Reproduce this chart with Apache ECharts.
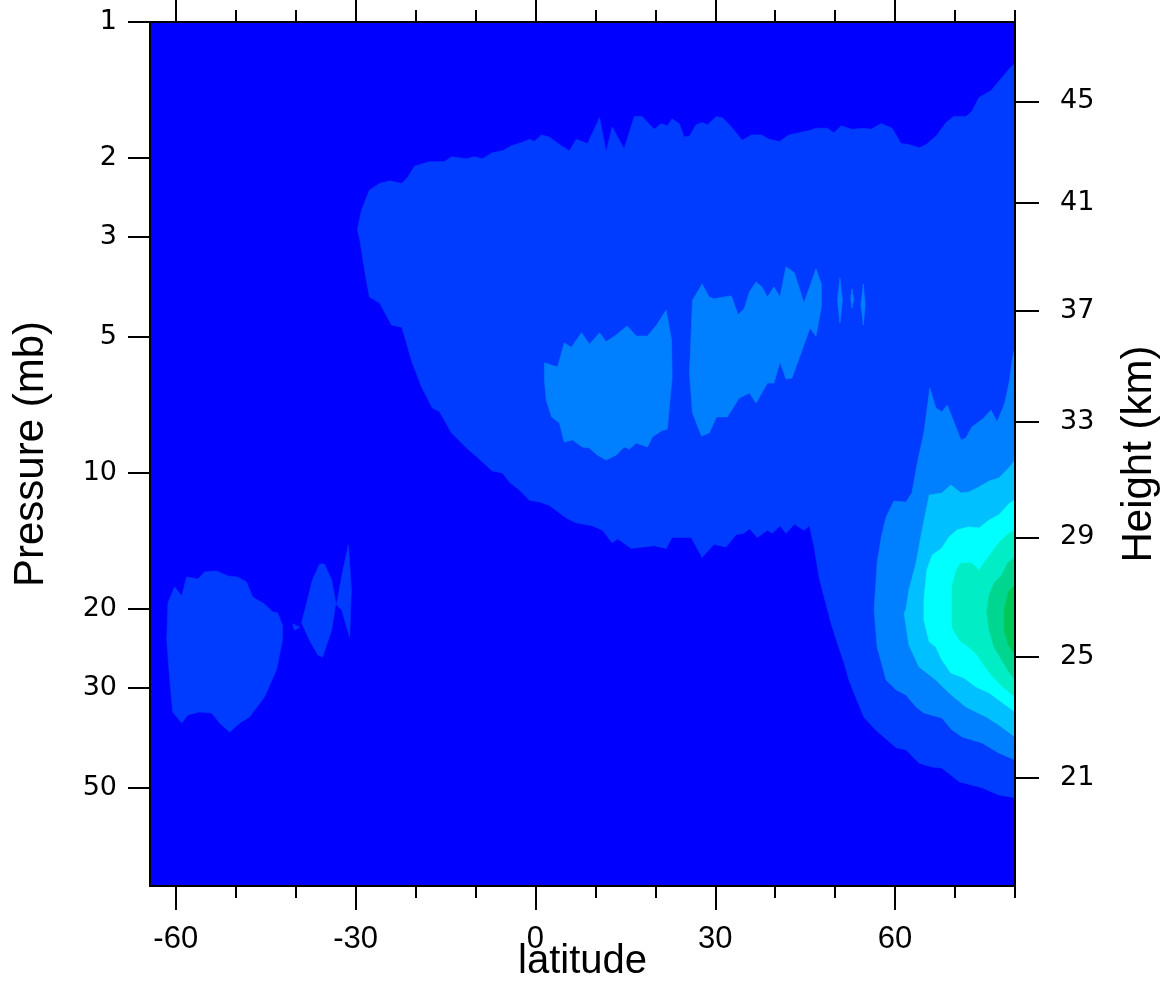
<!DOCTYPE html>
<html>
<head>
<meta charset="utf-8">
<script src="https://cdn.jsdelivr.net/npm/echarts@6/dist/echarts.min.js"></script>
<style>html,body{margin:0;padding:0;background:#fff;}#chart{width:1172px;height:983px;}</style>
</head>
<body>
<div id="chart"></div>
<script>
// ---- axis data ----
const latRange = [-64.3, 80];
const pressureRange = [1, 82.4];
const latTicksMajor = [-60, -30, 0, 30, 60];
const latTicksMinor = [-50, -40, -20, -10, 10, 20, 40, 50, 70, 80];
const pressureTicks = [1, 2, 3, 5, 10, 20, 30, 50];
const heightTicks = [45, 41, 37, 33, 29, 25, 21];
const heightTickPressure = [1.50, 2.52, 4.37, 7.71, 13.9, 25.6, 47.5];

// ---- contour level colours (lowest = background) ----
const levelColors = ['#0000FF', '#003CFF', '#0080FF', '#00C0FF', '#00FFFF', '#00EDC6', '#00D690', '#00C856'];

// ---- contour polygons: [latitude, pressure mb] ----
const level1Main = [[-29.7,2.89],[-29.0,2.61],[-27.7,2.36],[-26.0,2.28],[-24.3,2.25],[-22.3,2.28],[-21.3,2.21],[-20.2,2.09],[-17.7,2.04],[-15.2,2.04],[-14.0,1.99],[-11.5,2.01],[-10.2,1.99],[-8.8,2.01],[-7.2,1.95],[-5.5,1.93],[-4.0,1.88],[-2.3,1.85],[-1.0,1.82],[-0.2,1.84],[1.0,1.78],[2.3,1.80],[4.3,1.88],[5.7,1.93],[6.8,1.82],[8.7,1.86],[10.7,1.63],[11.8,1.94],[12.8,1.71],[14.8,1.91],[16.5,1.62],[17.8,1.62],[19.8,1.73],[21.0,1.68],[22.0,1.70],[22.8,1.64],[24.0,1.68],[24.8,1.80],[25.7,1.79],[26.8,1.69],[27.8,1.67],[28.7,1.69],[30.2,1.62],[31.2,1.63],[32.7,1.71],[34.5,1.83],[36.0,1.78],[37.7,1.78],[39.0,1.82],[40.7,1.84],[42.3,1.78],[44.0,1.76],[45.7,1.74],[46.8,1.72],[48.7,1.72],[49.8,1.76],[51.0,1.70],[52.8,1.73],[54.8,1.72],[56.0,1.73],[57.7,1.68],[59.5,1.72],[61.0,1.86],[62.3,1.87],[64.0,1.90],[65.2,1.87],[67.0,1.78],[68.5,1.67],[69.8,1.62],[71.8,1.62],[72.8,1.58],[74.0,1.47],[76.0,1.42],[77.8,1.33],[79.5,1.25],[80,1.24],
  [80,52.5],[77.3,51.8],[74.5,49.9],[70.7,48.4],[67.8,45.1],[66.2,44.9],[64.0,44.0],[61.8,41.1],[60.2,40.7],[56.8,37.2],[54.8,34.8],[53.5,31.6],[52.3,28.8],[51.5,26.4],[50.3,23.7],[49.3,21.5],[48.5,19.6],[47.3,17.0],[46.5,14.6],[45.7,13.1],[44.8,13.4],[44.0,13.2],[43.2,13.0],[41.8,13.6],[40.8,13.1],[39.5,13.6],[38.7,13.4],[37.0,13.9],[35.7,13.3],[34.8,13.6],[33.5,13.7],[31.8,14.6],[29.8,14.4],[27.8,15.4],[26.0,13.9],[22.8,13.9],[21.8,14.7],[19.8,14.5],[16.0,14.7],[13.7,14.0],[12.8,14.3],[11.2,13.4],[9.5,13.1],[6.8,12.9],[5.2,12.6],[2.3,11.8],[0.7,11.6],[-1.0,11.5],[-2.7,10.9],[-4.3,10.5],[-5.5,10.0],[-7.2,9.9],[-9.8,9.2],[-11.5,8.8],[-14.0,8.15],[-16.0,7.32],[-17.2,7.18],[-19.0,6.45],[-20.7,5.62],[-21.8,4.99],[-22.3,4.75],[-24.0,4.70],[-26.0,4.20],[-27.7,4.07],[-28.5,3.55],[-29.3,3.04]];
const level1SouthBlob = [[-60.2,17.89],[-59.0,18.74],[-58.2,17.01],[-56.3,17.18],[-55.2,16.58],[-53.2,16.50],[-51.3,16.92],[-49.7,17.01],[-48.2,17.45],[-47.2,18.84],[-45.2,19.52],[-43.8,20.34],[-43.0,20.44],[-42.2,21.73],[-42.2,23.46],[-43.2,27.34],[-45.2,31.38],[-47.7,34.76],[-49.3,35.84],[-51.0,37.53],[-52.7,35.84],[-54.0,34.06],[-56.0,33.88],[-58.0,34.41],[-59.0,35.84],[-60.5,33.88],[-61.0,28.78],[-61.5,23.46],[-61.3,19.42]];
const level1Speck = [[-40.5,21.6],[-39.3,22.0],[-40.2,22.3]];
const level1Diamond = [[-39.0,21.51],[-37.2,17.27],[-36.0,15.92],[-35.2,15.92],[-34.0,17.27],[-33.3,19.42],[-34.0,22.29],[-35.5,25.59],[-36.3,25.32],[-37.7,23.46]];
const level1Spike = [[-33.2,19.62],[-32.2,16.66],[-31.2,14.44],[-30.7,18.17],[-31.0,23.10],[-31.5,21.95],[-32.3,20.13]];

const level2Tropics = [[1.5,5.70],[3.7,5.82],[4.8,5.15],[6.0,5.26],[7.7,4.89],[9.0,5.18],[10.7,4.89],[11.8,5.12],[13.5,4.94],[15.3,4.72],[16.8,4.97],[18.7,4.97],[20.2,4.70],[21.8,4.35],[22.7,5.07],[22.8,6.13],[22.0,7.99],[21.0,8.07],[19.5,8.32],[18.7,8.76],[16.8,8.58],[15.7,8.85],[14.8,8.76],[13.5,9.12],[11.8,9.36],[10.3,9.12],[9.0,8.80],[7.8,8.76],[6.2,8.45],[4.8,8.54],[4.0,7.75],[2.7,7.51],[1.8,6.89],[1.5,6.22]];
const level2Subtropics = [[25.7,6.00],[26.2,4.14],[27.8,3.81],[29.0,4.07],[29.8,4.11],[31.5,4.07],[32.7,4.05],[33.8,4.46],[34.8,4.33],[35.7,3.97],[36.8,3.77],[37.8,3.87],[38.7,4.07],[39.8,3.87],[40.8,4.07],[41.8,3.49],[43.2,3.60],[44.8,4.20],[46.8,3.53],[47.7,3.81],[47.7,4.28],[46.8,4.97],[45.8,4.77],[42.8,6.16],[41.8,6.19],[40.8,5.67],[39.8,6.32],[38.7,6.32],[36.8,7.00],[35.7,6.65],[34.0,6.82],[32.0,7.51],[30.2,7.51],[29.0,8.15],[27.7,8.28],[26.2,7.36]];
const level2Sliver1 = [[50.8,3.70],[51.2,4.14],[50.8,4.65],[50.4,4.14]];
const level2Sliver2 = [[52.8,3.91],[53.1,4.11],[52.8,4.31],[52.6,4.11]];
const level2Sliver3 = [[54.7,3.81],[55.0,4.24],[54.7,4.70],[54.3,4.24]];
const level2Arctic = [[80,5.26],[79.6,5.53],[79.1,6.22],[78.3,7.00],[77.0,7.71],[76.0,7.25],[74.8,7.55],[72.8,7.91],[71.8,8.37],[71.0,8.45],[68.7,7.07],[67.8,7.32],[66.8,7.18],[65.8,6.48],[64.8,8.15],[63.7,9.50],[62.8,11.08],[61.8,11.60],[59.8,11.54],[58.5,12.52],[57.7,13.87],[57.0,15.84],[56.5,20.13],[57.0,24.31],[58.5,28.78],[60.2,30.28],[61.8,31.06],[63.5,33.03],[64.8,34.06],[67.8,34.94],[69.5,37.15],[71.2,38.50],[74.5,39.70],[77.3,41.77],[80,43.3]];

const level3Arctic = [[80,9.36],[79.1,9.70],[77.3,10.26],[75.7,10.42],[74.0,10.74],[72.3,11.02],[71.0,11.08],[69.3,10.63],[67.8,11.08],[65.7,11.19],[64.5,13.38],[63.5,15.84],[62.3,18.17],[61.8,20.13],[61.5,20.44],[62.3,24.07],[64.0,26.93],[66.8,28.78],[69.0,30.74],[71.8,33.03],[75.2,34.76],[77.3,36.22],[80,38.5]];
const level4Arctic = [[80,11.48],[79.1,11.66],[77.3,12.39],[75.7,12.71],[74.0,13.24],[72.3,13.17],[70.3,13.38],[69.0,13.87],[67.8,14.67],[66.2,15.20],[65.3,16.41],[64.8,19.12],[64.8,21.18],[65.7,23.70],[66.8,24.31],[67.8,25.98],[69.3,27.76],[71.5,28.48],[73.5,29.83],[75.7,30.74],[77.3,31.87],[80,33.88]];
const level5Arctic = [[80,13.38],[78.6,13.73],[77.3,14.30],[76.2,14.97],[75.2,15.59],[74.0,16.41],[72.7,15.84],[71.0,15.84],[70.2,16.41],[69.5,17.89],[69.5,19.42],[69.5,21.95],[70.7,23.46],[72.3,24.31],[73.7,25.32],[74.8,26.66],[76.2,28.19],[77.8,29.68],[80,31.38]];
const level6Arctic = [[80,15.36],[78.8,15.84],[77.8,16.84],[76.5,17.54],[75.7,18.64],[75.3,20.34],[75.7,22.29],[76.5,24.31],[77.8,25.98],[78.8,27.34],[80,28.78]];
const level7Arctic = [[80,17.71],[78.9,18.36],[78.2,20.13],[78.2,22.29],[78.9,24.07],[80,25.32]];

const levels = [
  [level1Main, level1SouthBlob, level1Speck, level1Diamond, level1Spike],
  [level2Tropics, level2Subtropics, level2Sliver1, level2Sliver2, level2Sliver3, level2Arctic],
  [level3Arctic],
  [level4Arctic],
  [level5Arctic],
  [level6Arctic],
  [level7Arctic]
];

const lg = Math.log10;
function levelSeries(idx, polys) {
  const color = levelColors[idx + 1];
  return {
    type: 'custom',
    coordinateSystem: 'cartesian2d',
    xAxisIndex: 0, yAxisIndex: 0,
    clip: true, silent: true, z: 2 + idx,
    data: polys.map(poly => [poly[0][0], lg(poly[0][1])]),
    renderItem: function (params, api) {
      const poly = polys[params.dataIndex];
      const pts = poly.map(pt => api.coord([pt[0], lg(pt[1])]));
      return { type: 'polygon', shape: { points: pts }, style: { fill: color, stroke: color, lineWidth: 0.6 } };
    }
  };
}

const black = '#000';
const tickFont = 'Liberation Sans, Arial, sans-serif';
function xAx(pos, ticks, len, labels) {
  return {
    type: 'value', position: pos, min: latRange[0], max: latRange[1], z: 20,
    axisLine: { show: true, onZero: false, lineStyle: { color: black, width: 2 } },
    axisTick: { show: true, inside: false, length: len, customValues: ticks, lineStyle: { color: black, width: 2 } },
    axisLabel: labels ? { show: true, customValues: ticks, margin: 38, color: black, fontSize: 31, fontFamily: tickFont, formatter: v => String(Math.round(v)) } : { show: false },
    splitLine: { show: false }
  };
}

const chart = echarts.init(document.getElementById('chart'), null, { renderer: 'canvas' });
const yMin = lg(pressureRange[0]), yMax = lg(pressureRange[1]);
const heightVals = heightTickPressure.map(lg);

const option = {
  backgroundColor: '#ffffff',
  animation: false,
  grid: { left: 150, top: 22, right: 157, bottom: 97, show: true, backgroundColor: levelColors[0], borderWidth: 0,
    containLabel: false, outerBoundsMode: 'none' },
  xAxis: [
    Object.assign(xAx('bottom', latTicksMajor, 24, true), {
      name: 'latitude', nameLocation: 'middle', nameGap: 56, nameMoveOverlap: false,
      nameTextStyle: { color: black, fontSize: 40, fontFamily: tickFont, verticalAlign: 'top' }
    }),
    xAx('bottom', latTicksMinor, 12, false),
    xAx('top', latTicksMajor, 24, false),
    xAx('top', latTicksMinor, 12, false)
  ],
  yAxis: [
    {
      type: 'value', position: 'left', min: yMin, max: yMax, inverse: true, z: 20,
      name: 'Pressure (mb)', nameLocation: 'middle', nameGap: 98, nameRotate: 90, nameMoveOverlap: false,
      nameTextStyle: { color: black, fontSize: 42, fontFamily: tickFont },
      axisLine: { show: true, onZero: false, lineStyle: { color: black, width: 2 } },
      axisTick: { show: true, length: 22, customValues: pressureTicks.map(lg), lineStyle: { color: black, width: 2 } },
      axisLabel: { show: true, customValues: pressureTicks.map(lg), margin: 33, color: black, fontSize: 27, fontFamily: 'DejaVu Sans, sans-serif',
        formatter: v => String(Math.round(Math.pow(10, v))) },
      splitLine: { show: false }
    },
    {
      type: 'value', position: 'right', min: yMin, max: yMax, inverse: true, z: 20,
      name: 'Height (km)', nameLocation: 'middle', nameGap: 103, nameRotate: 90, nameMoveOverlap: false,
      nameTextStyle: { color: black, fontSize: 42, fontFamily: tickFont },
      axisLine: { show: true, onZero: false, lineStyle: { color: black, width: 2 } },
      axisTick: { show: true, length: 24, customValues: heightVals, lineStyle: { color: black, width: 2 } },
      axisLabel: { show: true, customValues: heightVals, margin: 45, color: black, fontSize: 27, fontFamily: 'DejaVu Sans, sans-serif',
        formatter: function (v) {
          let best = 0;
          heightVals.forEach((h, i) => { if (Math.abs(h - v) < Math.abs(heightVals[best] - v)) best = i; });
          return String(heightTicks[best]);
        } },
      splitLine: { show: false }
    }
  ],
  series: levels.map((polys, i) => levelSeries(i, polys))
};
chart.setOption(option);
</script>
</body>
</html>
